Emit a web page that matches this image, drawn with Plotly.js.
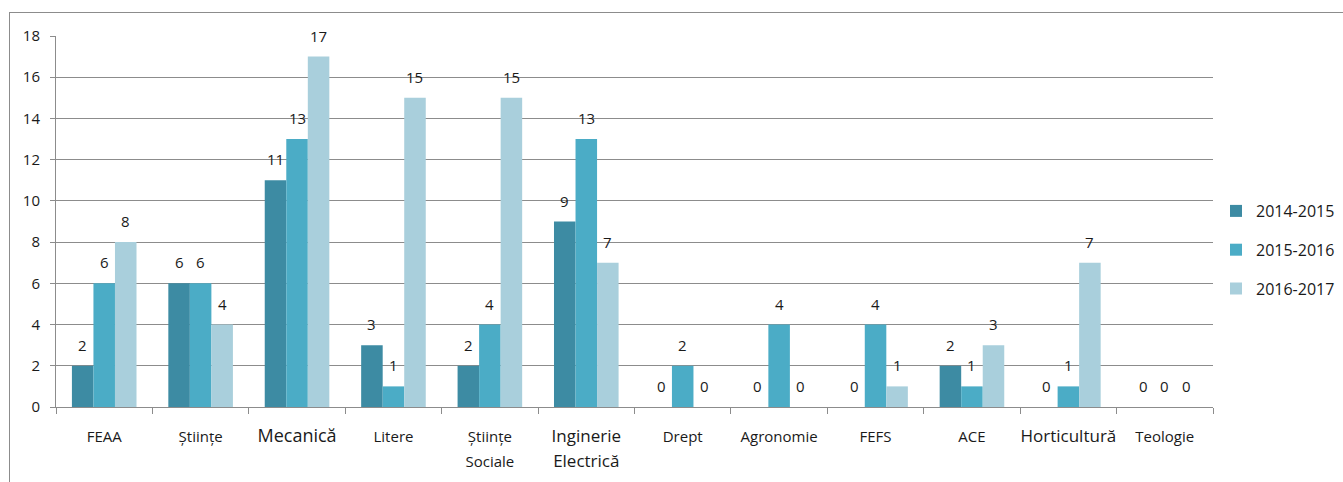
<!DOCTYPE html>
<html><head><meta charset="utf-8">
<script src="https://cdn.plot.ly/plotly-3.0.1.min.js"></script>
<style>body{margin:0;padding:0;background:#fff;} #frame{position:absolute;left:9px;top:12px;width:1400px;height:500px;border:1px solid #8c8c8c;pointer-events:none;}</style>
</head><body>
<div id="chart" style="width:1343px;height:482px;"></div>
<div id="frame"></div>
<script>
const categories = ["FEAA", "Științe", "Mecanică", "Litere", "Științe Sociale", "Inginerie Electrică", "Drept", "Agronomie", "FEFS", "ACE", "Horticultură", "Teologie"];
const tickLabels = ["FEAA", "Științe", "Mecanică", "Litere", "Științe<br>Sociale", "Inginerie<br>Electrică", "Drept", "Agronomie", "FEFS", "ACE", "Horticultură", "Teologie"];
const tickSizes = [15, 15, 18, 15, 15, 17, 15, 15, 15, 15, 17, 15];
const seriesNames = ["2014-2015", "2015-2016", "2016-2017"];
const v2014 = [2, 6, 11, 3, 2, 9, 0, 0, 0, 2, 0, 0];
const v2015 = [6, 6, 13, 1, 4, 13, 2, 4, 4, 1, 1, 0];
const v2016 = [8, 4, 17, 15, 15, 7, 0, 0, 1, 3, 7, 0];
const colors = ["#3d8ba3", "#4bacc6", "#a9cfdc"];
const allValues = [v2014, v2015, v2016];

const W = 1343, H = 482;
const margin = {l: 56, r: 130, t: 36, b: 75};
const bargap = 0.33;
const plotW = W - margin.l - margin.r;
const barW = plotW / categories.length * (1 - bargap) / allValues.length;

const styledTicks = tickLabels.map((t, k) =>
  t.split('<br>').map(s => "<span style='font-size:" + tickSizes[k] + "px'>" + s + "</span>").join('<br>'));

const traces = allValues.map((vals, i) => ({
  type: 'bar',
  name: seriesNames[i],
  legendgroup: 'g' + i,
  x: categories,
  y: vals,
  marker: {color: colors[i]},
  hoverinfo: 'x+y+name'
}));

const annotations = [];
allValues.forEach((vals, i) => {
  vals.forEach((v, j) => {
    annotations.push({
      x: categories[j], y: v, xref: 'x', yref: 'y',
      text: String(v), showarrow: false,
      yanchor: 'bottom', xanchor: 'center',
      xshift: (i - (allValues.length - 1) / 2) * barW,
      yshift: 9,
      font: {family: 'Open Sans, sans-serif', size: 15, color: '#1a1a1a'}
    });
  });
});

const layout = {
  width: W, height: H,
  margin: margin,
  barmode: 'group',
  bargap: bargap,
  bargroupgap: 0,
  paper_bgcolor: '#fff', plot_bgcolor: '#fff',
  font: {family: 'Open Sans, sans-serif', size: 13, color: '#1a1a1a'},
  showlegend: true,
  legend: {xref: 'container', yref: 'container', x: 1216 / W, y: 1 - 194 / H, xanchor: 'left', yanchor: 'top',
           font: {size: 16, color: '#1a1a1a'}, itemwidth: 30, traceorder: 'grouped', tracegroupgap: 15},
  annotations: annotations,
  xaxis: {
    type: 'category',
    tickvals: categories, ticktext: styledTicks,
    tickangle: 0, automargin: false,
    showline: true, linecolor: '#8c8c8c', linewidth: 1,
    ticks: 'outside', tickson: 'boundaries', ticklen: 6, tickcolor: '#8c8c8c',
    showgrid: false,
    ticklabelstandoff: 11,
    tickfont: {size: 19, color: '#1a1a1a'}
  },
  yaxis: {
    range: [0, 18], dtick: 2,
    showline: true, linecolor: '#8c8c8c', linewidth: 1,
    ticks: 'outside', ticklen: 5, tickcolor: '#8c8c8c',
    ticklabelstandoff: 7,
    showgrid: true, gridcolor: '#8c8c8c', gridwidth: 1,
    zeroline: false,
    tickfont: {size: 15, color: '#1a1a1a'}
  }
};
Plotly.newPlot('chart', traces, layout, {displayModeBar: false});
</script>
</body></html>
